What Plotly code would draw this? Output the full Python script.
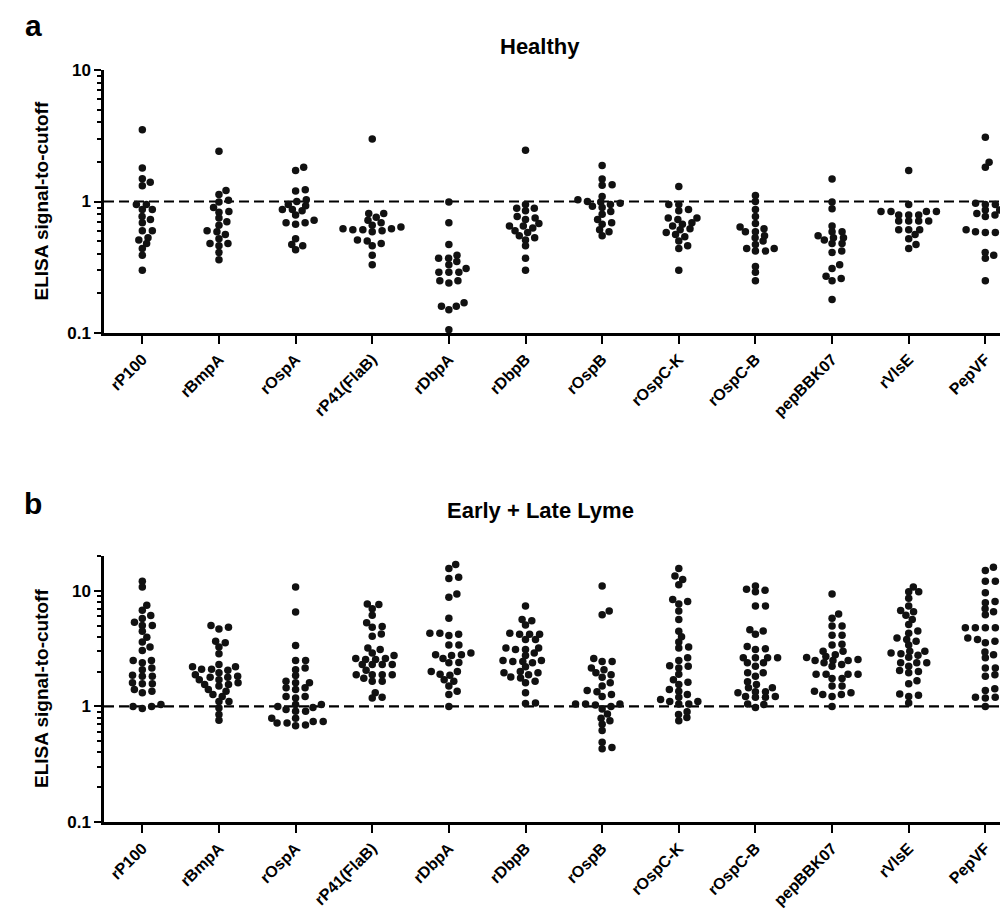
import math
import plotly.graph_objects as go

# ---------------- data ----------------
categories = ["rP100", "rBmpA", "rOspA", "rP41(FlaB)", "rDbpA", "rDbpB",
              "rOspB", "rOspC-K", "rOspC-B", "pepBBK07", "rVlsE", "PepVF"]

healthy_rP100 = [3.52, 1.80, 1.40, 1.49, 1.32, 0.95, 0.95, 0.87, 0.87, 0.73, 0.77, 0.69, 0.60, 0.60, 0.51, 0.53, 0.44, 0.48, 0.39, 0.30]
healthy_rBmpA = [2.41, 1.13, 1.21, 0.90, 0.99, 1.02, 0.83, 0.84, 0.75, 0.70, 0.66, 0.59, 0.60, 0.56, 0.48, 0.48, 0.46, 0.41, 0.36, 0.52]
healthy_rOspA = [1.82, 1.72, 1.23, 1.20, 1.00, 1.03, 0.93, 0.87, 0.85, 0.87, 0.79, 0.69, 0.67, 0.69, 0.47, 0.46, 0.52, 0.43, 0.95, 0.72]
healthy_rP41 = [2.99, 0.81, 0.76, 0.81, 0.72, 0.69, 0.61, 0.62, 0.60, 0.59, 0.61, 0.62, 0.51, 0.48, 0.50, 0.46, 0.39, 0.33, 0.64, 0.66]
healthy_rDbpA = [0.99, 0.69, 0.47, 0.39, 0.37, 0.37, 0.35, 0.33, 0.31, 0.29, 0.29, 0.29, 0.25, 0.24, 0.25, 0.17, 0.16, 0.15, 0.16, 0.106]
healthy_rDbpB = [2.45, 0.89, 0.95, 0.89, 0.75, 0.77, 0.73, 0.65, 0.63, 0.65, 0.58, 0.53, 0.51, 0.46, 0.37, 0.30, 0.85, 0.68, 0.60, 0.55]
healthy_rOspB = [1.88, 1.48, 1.34, 1.33, 1.09, 0.95, 1.03, 0.92, 0.99, 0.84, 0.73, 0.69, 0.67, 0.61, 0.59, 0.55, 1.00, 0.97, 0.90, 0.80]
healthy_rOspCK = [1.30, 0.95, 0.95, 0.87, 0.75, 0.73, 0.75, 0.69, 0.67, 0.61, 0.56, 0.54, 0.50, 0.46, 0.44, 0.30, 0.85, 0.65, 0.62, 0.58]
healthy_rOspCB = [1.11, 1.00, 0.87, 0.77, 0.68, 0.62, 0.64, 0.59, 0.59, 0.53, 0.47, 0.50, 0.44, 0.42, 0.44, 0.42, 0.32, 0.29, 0.25, 0.55]
healthy_pepBBK07 = [1.48, 0.99, 0.88, 0.65, 0.53, 0.59, 0.59, 0.53, 0.48, 0.51, 0.48, 0.42, 0.41, 0.31, 0.33, 0.26, 0.25, 0.27, 0.18, 0.55]
healthy_rVlsE = [1.72, 0.95, 0.84, 0.84, 0.84, 0.84, 0.79, 0.79, 0.79, 0.71, 0.71, 0.71, 0.71, 0.61, 0.61, 0.61, 0.56, 0.52, 0.44, 0.47]
healthy_PepVF = [3.08, 1.99, 1.82, 0.95, 0.97, 0.95, 0.86, 0.86, 0.79, 0.77, 0.81, 0.59, 0.61, 0.58, 0.58, 0.39, 0.37, 0.41, 0.25, 0.60]

lyme_rP100 = [12.1, 10.8, 7.5, 6.8, 6.1, 5.75, 5.35, 5.0, 5.0, 4.47, 3.97, 3.6, 3.26, 3.04, 2.49, 2.49, 2.38, 2.15, 2.08, 1.86, 1.82, 1.82, 1.6, 1.57, 1.57, 1.40, 1.35, 1.31, 1.0, 0.96, 1.0, 1.04]
lyme_rBmpA = [4.84, 4.68, 5.0, 3.26, 3.66, 3.55, 2.85, 2.3, 2.2, 2.1, 2.1, 2.05, 2.2, 1.95, 1.88, 1.79, 1.82, 1.79, 1.7, 1.7, 1.5, 1.55, 1.55, 1.6, 1.4, 1.35, 1.27, 1.22, 1.1, 1.1, 0.97, 0.85, 0.76]
lyme_rOspA = [10.8, 6.55, 3.36, 2.49, 2.49, 2.08, 2.15, 1.85, 1.65, 1.6, 1.6, 1.45, 1.45, 1.40, 1.22, 1.22, 1.18, 1.04, 1.0, 1.04, 0.98, 0.91, 0.94, 0.91, 0.74, 0.72, 0.69, 0.72, 0.68, 0.74, 0.79, 0.79]
lyme_rP41 = [7.7, 7.0, 7.6, 6.15, 4.84, 5.3, 4.9, 4.05, 4.24, 3.1, 3.2, 2.9, 2.6, 2.55, 2.55, 2.6, 2.3, 2.3, 2.3, 2.3, 1.88, 1.88, 1.88, 1.88, 1.65, 1.65, 1.31, 1.18, 1.2, 2.75, 2.05, 1.75]
lyme_rDbpA = [15.6, 16.9, 12.8, 13.1, 9.4, 8.8, 5.8, 4.3, 4.2, 4.1, 4.3, 3.4, 3.4, 2.8, 2.9, 2.8, 2.75, 2.38, 2.6, 2.4, 2.0, 1.86, 1.9, 2.0, 1.7, 1.65, 1.5, 1.35, 1.27, 1.0]
lyme_rDbpB = [7.4, 5.5, 5.65, 5.05, 4.2, 4.2, 4.2, 4.3, 3.8, 3.8, 3.1, 3.2, 3.2, 3.1, 2.45, 2.5, 2.38, 2.5, 2.45, 1.95, 1.88, 1.95, 2.0, 1.65, 1.6, 1.76, 1.31, 1.06, 1.07, 2.75, 2.2, 2.9, 1.8]
lyme_rOspB = [11.0, 6.7, 6.2, 2.6, 2.45, 2.45, 2.08, 2.15, 1.88, 1.79, 1.95, 1.5, 1.6, 1.34, 1.37, 1.22, 1.27, 1.05, 1.0, 1.05, 1.03, 1.05, 0.95, 0.79, 0.86, 0.75, 0.70, 0.62, 0.49, 0.43, 0.44]
lyme_rOspCK = [15.6, 13.4, 12.5, 11.3, 8.4, 8.1, 7.7, 6.7, 5.65, 4.47, 4.0, 3.26, 3.6, 3.2, 2.63, 2.5, 2.23, 2.25, 2.15, 1.9, 1.7, 1.62, 1.55, 1.35, 1.4, 1.27, 1.2, 1.15, 1.1, 1.1, 1.05, 1.05, 0.85, 0.8, 0.75, 0.9]
lyme_rOspCB = [11.0, 10.1, 9.8, 10.3, 7.4, 7.4, 4.5, 4.2, 4.6, 3.3, 3.1, 3.15, 2.63, 2.63, 2.63, 2.63, 2.38, 2.38, 2.23, 1.95, 1.95, 1.82, 1.63, 1.45, 1.55, 1.45, 1.34, 1.34, 1.31, 1.22, 1.2, 1.2, 1.22, 1.05, 0.98, 1.04]
lyme_pepBBK07 = [9.4, 5.8, 6.3, 4.95, 4.95, 4.13, 4.13, 3.4, 3.45, 3.0, 2.8, 3.0, 2.7, 2.5, 2.55, 2.5, 2.5, 2.65, 2.38, 2.23, 2.3, 1.9, 1.9, 1.9, 1.9, 1.74, 1.74, 1.5, 1.5, 1.27, 1.31, 1.27, 1.22, 1.35, 1.0]
lyme_rVlsE = [10.8, 9.8, 9.8, 8.6, 7.4, 6.6, 6.75, 5.65, 6.15, 5.1, 4.5, 4.3, 3.9, 3.8, 3.66, 3.4, 3.0, 3.0, 2.85, 2.66, 2.9, 2.77, 2.23, 2.38, 2.38, 2.38, 2.04, 1.95, 2.0, 1.67, 1.57, 1.25, 1.22, 1.28, 1.07]
lyme_PepVF = [15.0, 16.0, 12.1, 12.1, 9.6, 8.1, 7.9, 7.0, 6.6, 6.2, 4.78, 4.78, 4.78, 4.78, 4.78, 3.8, 3.55, 3.66, 3.9, 2.8, 2.63, 2.96, 2.15, 2.15, 1.82, 1.88, 1.42, 1.37, 1.18, 1.2, 1.2, 1.0]

healthy = [healthy_rP100, healthy_rBmpA, healthy_rOspA, healthy_rP41, healthy_rDbpA, healthy_rDbpB,
           healthy_rOspB, healthy_rOspCK, healthy_rOspCB, healthy_pepBBK07, healthy_rVlsE, healthy_PepVF]
lyme = [lyme_rP100, lyme_rBmpA, lyme_rOspA, lyme_rP41, lyme_rDbpA, lyme_rDbpB,
        lyme_rOspB, lyme_rOspCK, lyme_rOspCB, lyme_pepBBK07, lyme_rVlsE, lyme_PepVF]

cutoff = 1.0
titles = ["Healthy", "Early + Late Lyme"]
panel_letters = ["a", "b"]
y_title = "ELISA signal-to-cutoff"

# ---------------- layout geometry ----------------
W, H = 1008, 911
ML, MR, MT, MB = 96, 0, 62, 97
plot_w = W - ML - MR
plot_h = H - MT - MB
x_range = [-0.5, 11.4]
ya_range = [-1, 1]
yb_range = [-1, math.log10(20)]
dom_a = [(814 - 325) / plot_h, 1.0]
dom_b = [0.0, (814 - 548) / plot_h]

px_per_x = plot_w / (x_range[1] - x_range[0])
px_dec_a = (dom_a[1] - dom_a[0]) * plot_h / (ya_range[1] - ya_range[0])
px_dec_b = (dom_b[1] - dom_b[0]) * plot_h / (yb_range[1] - yb_range[0])


def swarm(values, px_per_dec, sx=10.0, sy=5.5):
    """Beeswarm horizontal offsets (in px) so dots do not overlap."""
    n = len(values)
    order = sorted(range(n), key=lambda i: values[i])
    placed = []
    offs = [0.0] * n
    for i in order:
        y = math.log10(values[i]) * px_per_dec
        nb = [(xo, yp) for (xo, yp) in placed if abs(yp - y) < sy]
        cands = [0.0]
        for xo, yp in nb:
            w = sx * math.sqrt(max(0.0, 1 - ((yp - y) / sy) ** 2))
            cands += [xo + w, xo - w]
        cands.sort(key=lambda c: (round(abs(c), 6), -c))
        chosen = cands[-1]
        for c in cands:
            if all(((c - xo) / sx) ** 2 + ((yp - y) / sy) ** 2 >= 0.999 for xo, yp in nb):
                chosen = c
                break
        placed.append((chosen, y))
        offs[i] = chosen
    return offs


fig = go.Figure()
for groups, xa, ya, pxd in [(healthy, "x", "y", px_dec_a), (lyme, "x2", "y2", px_dec_b)]:
    xs, ys = [], []
    for ci, vals in enumerate(groups):
        offs = swarm(vals, pxd)
        for v, o in zip(vals, offs):
            xs.append(ci + o / px_per_x)
            ys.append(v)
    fig.add_trace(go.Scatter(x=xs, y=ys, mode="markers", xaxis=xa, yaxis=ya,
                             marker=dict(size=7.5, color="#111111", line=dict(width=0)),
                             showlegend=False, hoverinfo="y"))

font_family = "Liberation Sans, Arial, sans-serif"
tickfont = dict(family=font_family, size=17, color="black", weight="bold")
xtickfont = dict(family=font_family, size=16, color="black", weight="bold")

common_x = dict(range=x_range, tickmode="array", tickvals=list(range(len(categories))),
                ticktext=categories, tickangle=-45, showline=True, linewidth=2.5,
                linecolor="black", ticks="outside", ticklen=8, tickwidth=2.2,
                tickcolor="black", showgrid=False, zeroline=False, tickfont=xtickfont,
                automargin=False, fixedrange=True)
common_y = dict(type="log", dtick=1, showline=True, linewidth=2.5, linecolor="black",
                ticks="outside", ticklen=7, tickwidth=2.2, tickcolor="black",
                showgrid=False, zeroline=False, tickfont=tickfont, automargin=False,
                minor=dict(ticks="outside", ticklen=4, tickwidth=1.8, tickcolor="black",
                           dtick="D1", showgrid=False))

fig.update_layout(
    width=W, height=H, margin=dict(l=ML, r=MR, t=MT, b=MB),
    plot_bgcolor="white", paper_bgcolor="white",
    xaxis=dict(common_x, anchor="y", domain=[0, 1]),
    yaxis=dict(common_y, anchor="x", domain=dom_a, range=ya_range),
    xaxis2=dict(common_x, anchor="y2", domain=[0, 1]),
    yaxis2=dict(common_y, anchor="x2", domain=dom_b, range=yb_range),
    showlegend=False,
)

# cutoff dashed lines
for xr, yr in [("x", "y"), ("x2", "y2")]:
    fig.add_shape(type="line", xref=xr, yref=yr, x0=x_range[0], x1=x_range[1],
                  y0=cutoff, y1=cutoff, line=dict(color="black", width=2.2, dash="10px,5px"),
                  layer="below")

# titles, y titles, panel letters
title_font = dict(family=font_family, size=22, color="black", weight="bold")
for title, dom, ypx in zip(titles, [dom_a, dom_b], [38, 502]):
    fig.add_annotation(text=title, xref="paper", yref="paper", x=(532 - ML) / plot_w,
                       y=(814 - ypx) / plot_h, xanchor="center", yanchor="middle",
                       showarrow=False, font=title_font)
    fig.add_annotation(text=y_title, xref="paper", yref="paper", x=(33 - ML) / plot_w,
                       y=(dom[0] + dom[1]) / 2, textangle=-90, xanchor="center",
                       yanchor="middle", showarrow=False,
                       font=dict(family=font_family, size=19, color="black", weight="bold"))

for letter, ypx in zip(panel_letters, [18, 495]):
    fig.add_annotation(text=letter, xref="paper", yref="paper", x=(25 - ML) / plot_w,
                       y=(814 - ypx) / plot_h, xanchor="center", yanchor="middle",
                       showarrow=False,
                       font=dict(family=font_family, size=30, color="black", weight="bold"))

fig.write_html("out.html")
